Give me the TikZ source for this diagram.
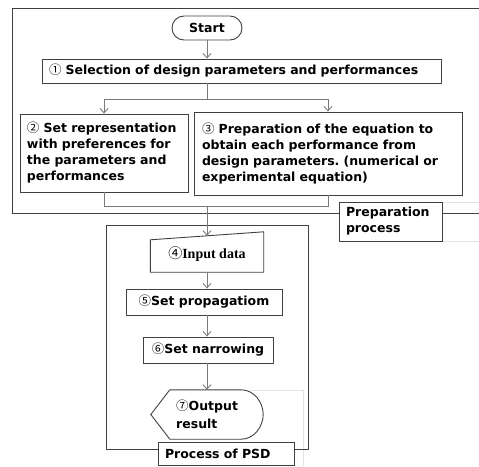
\documentclass[tikz,border=0pt]{standalone}
\usepackage{fontspec}
\setmainfont{DejaVu Sans}
\newfontfamily\serifb{Liberation Serif}
\newfontfamily\cjk{Noto Sans CJK JP}
\newcommand{\cd}[1]{{\cjk\mdseries #1}}
\frenchspacing
\usetikzlibrary{arrows.meta,calc}
\definecolor{boxline}{HTML}{404040}
\definecolor{conn}{HTML}{7A7A7A}
\definecolor{faint}{HTML}{E2E2E2}
\tikzset{
  box/.style={draw=boxline, line width=0.9pt, fill=white, inner sep=0pt, font=\bfseries\fontsize{12.5}{16}\selectfont},
  frameline/.style={draw=boxline, line width=0.9pt},
  conn/.style={draw=conn, line width=0.9pt},
  arr/.style={conn, -{Straight Barb[length=4.5pt,width=8pt]}},
  faintline/.style={draw=faint, line width=0.7pt},
}
\begin{document}
\begin{tikzpicture}[x=1pt,y=-1pt]
\useasboundingbox (0,0) rectangle (479,466);
% faint lines
\draw[faintline] (442,202) -- (479,202);
\draw[faintline] (442,241) -- (479,241);
\draw[faintline] (250,390) -- (303,390) -- (303,466);
% top frame
\draw[frameline] (479,8) -- (12,8) -- (12,213.5) -- (479,213.5);
% lower frame
\draw[frameline] (106,225) rectangle (308,449);

% nodes
\node[box, rounded corners=12pt, minimum width=70pt, minimum height=24pt] (start) at (207,28) {Start};
\node[box, minimum width=399pt, minimum height=24pt, text width=385pt, align=left] (b1) at (241.5,71) {\cd{①} Selection of design parameters and performances};
\node[box, minimum width=168pt, minimum height=78pt, text width=154pt, align=left] (b2) at (104,153) {\cd{②} Set representation\\with preferences for\\the parameters and\\performances};
\node[box, minimum width=268pt, minimum height=83pt, text width=252pt, align=left] (b3) at (328,153.5) {\cd{③} Preparation of the equation to\\obtain each performance from\\design parameters. (numerical or\\experimental equation)};
\node[box, minimum width=103pt, minimum height=39pt, text width=89pt, align=left] (prep) at (390.5,221.5) {Preparation\\process};

% input (manual input shape)
\node[inner sep=0pt, minimum width=113pt, minimum height=36pt, font=\serifb\bfseries\fontsize{14}{16}\selectfont] (in) at (207,254) {\cd{④}Input data};
\draw[boxline, line width=0.9pt] ($(in.north west)+(0,4)$) -- ($(in.north east)+(0,-4)$) -- (in.south east) -- (in.south west) -- cycle;

\node[box, minimum width=156pt, minimum height=26pt] (b5) at (204,302) {\cd{⑤}Set propagatiom};
\node[box, minimum width=130pt, minimum height=26pt] (b6) at (208,350) {\cd{⑥}Set narrowing};

% output (display shape)
\node[inner sep=0pt, minimum width=112pt, minimum height=49pt] (out) at (207,414.5) {};
\draw[boxline, line width=0.9pt] (out.west) -- ($(out.north west)+(19,0)$) -- ($(out.north east)+(-22,0)$)
  .. controls ($(out.north east)+(-9,0)$) and ($(out.east)+(0,-12)$) .. (out.east)
  .. controls ($(out.east)+(0,12)$) and ($(out.south east)+(-9,0)$) .. ($(out.south east)+(-22,0)$)
  -- ($(out.south west)+(19,0)$) -- cycle;
\node[anchor=west, inner sep=0pt, align=left, font=\bfseries\fontsize{12.5}{18}\selectfont] (outtxt) at (176,414.5) {\cd{⑦}Output\\result};

\node[box, minimum width=136pt, minimum height=23pt, text width=122pt, align=left] (psd) at (226,453.5) {Process of PSD};

% connectors
\coordinate (s) at (207,99);
\coordinate (s2) at (104,99);
\coordinate (s3) at (328,99);
\coordinate (m) at (207,206);
\coordinate (m2) at (104,206);
\coordinate (m3) at (328,206);
\draw[arr] (start) -- (start |- b1.north);
\draw[conn] (b1.south -| s) -- (s);
\draw[conn] (s2) -- (s3);
\draw[arr] (s2) -- (b2.north);
\draw[arr] (s3) -- (b3.north);
\draw[conn] (b2.south) -- (m2) -- (m3) -- (b3.south);
\draw[arr] (m) -- (m |- in.north);
\draw[arr] (in.south -| m) -- (b5.north -| m);
\draw[arr] (b5.south -| m) -- (b6.north -| m);
\draw[arr] (b6.south -| m) -- (out.north);
\end{tikzpicture}
\end{document}
